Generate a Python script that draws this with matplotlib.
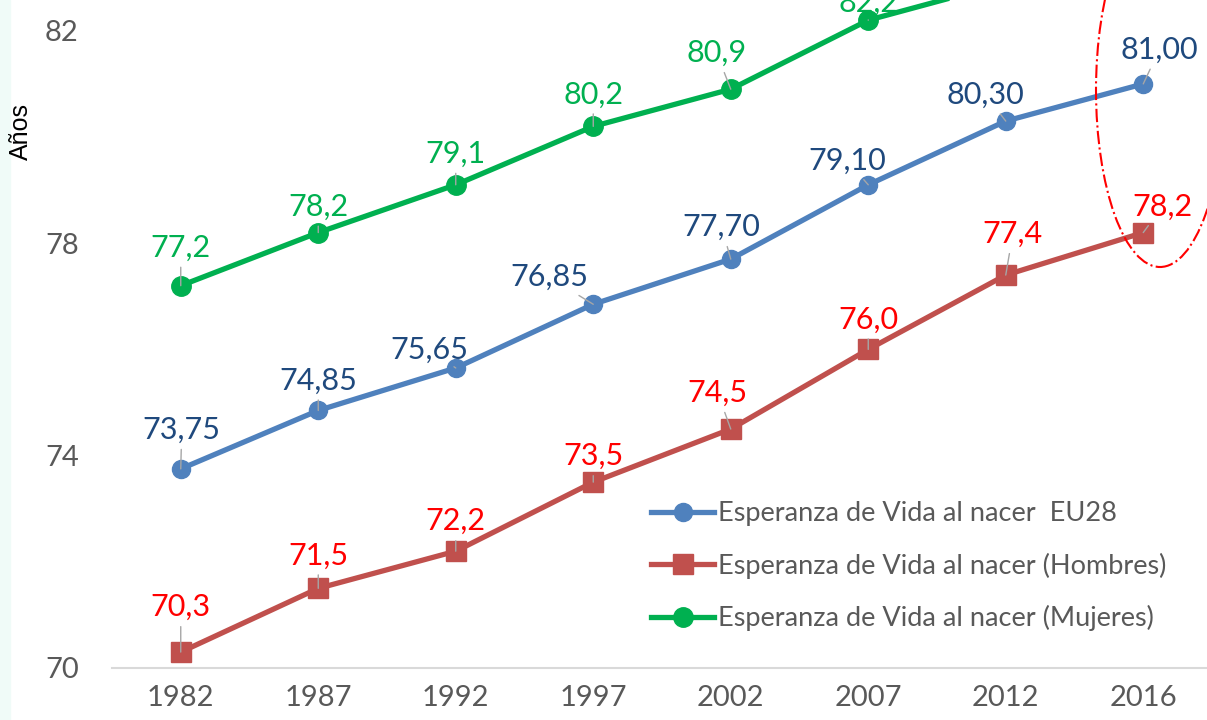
import matplotlib
matplotlib.use("Agg")
import matplotlib.pyplot as plt
from matplotlib.patches import Ellipse, Rectangle

plt.rcParams['font.family'] = ['Lato', 'DejaVu Sans']

# Data
years = ['1982', '1987', '1992', '1997', '2002', '2007', '2012', '2016']
eu28 = [73.75, 74.85, 75.65, 76.85, 77.70, 79.10, 80.30, 81.00]
hombres = [70.3, 71.5, 72.2, 73.5, 74.5, 76.0, 77.4, 78.2]
mujeres = [77.2, 78.2, 79.1, 80.2, 80.9, 82.2, 82.9, 83.6]

# label offsets in pixels (dx, dy) from each point
off_eu = [(1, 39), (0, 30), (-26, 18), (-44, 27), (-9, 32), (-21, 24), (-20, 26), (16, 34)]
off_h = [(0, 45), (0, 33), (0, 30), (0, 26), (-13, 36), (0, 30), (7, 41), (19, 26)]
off_m = [(0, 38), (0, 26), (0, 31), (0, 32), (-14, 36), (0, 17), (0, 20), (0, 20)]

fig = plt.figure(figsize=(12.07, 7.2), dpi=100)
fig.add_artist(Rectangle((0, 0), 10 / 1207, 1, transform=fig.transFigure,
                         color='#F0FBF8', zorder=0))
ax = fig.add_axes([112 / 1207, 52 / 720, 1100 / 1207, 668 / 720])

x = list(range(len(years)))
ax.plot(x, eu28, color='#4F81BD', lw=3.8, marker='o', ms=13,
        label='Esperanza de Vida al nacer  EU28', zorder=3)
ax.plot(x, hombres, color='#C0504D', lw=3.8, marker='s', ms=14,
        label='Esperanza de Vida al nacer (Hombres)', zorder=3)
ax.plot(x, mujeres, color='#00B050', lw=3.8, marker='o', ms=14,
        label='Esperanza de Vida al nacer (Mujeres)', zorder=3)

def labels(vals, offs, fmt, color):
    for i, (v, (dx, dy)) in enumerate(zip(vals, offs)):
        ax.annotate(fmt.format(v).replace('.', ','), (i, v),
                    xytext=(dx, dy), textcoords='offset pixels',
                    ha='center', va='center', fontsize=22, color=color,
                    arrowprops=dict(arrowstyle='-', color='#A6A6A6', lw=1,
                                    shrinkA=2, shrinkB=0),
                    zorder=4, annotation_clip=True)

labels(eu28, off_eu, '{:.2f}', '#1F497D')
labels(hombres, off_h, '{:.1f}', '#FF0000')
labels(mujeres, off_m, '{:.1f}', '#00B050')

ax.set_xlim(-0.5, 7.5)
ax.set_ylim(70, 82.58)
ax.set_yticks([70, 74, 78, 82])
ax.set_xticks(x)
ax.set_xticklabels(years)
ax.tick_params(length=0, labelsize=21, colors='#595959', pad=12)
ax.tick_params(axis='y', pad=24)
for s in ['top', 'right', 'left']:
    ax.spines[s].set_visible(False)
ax.spines['bottom'].set_color('#D9D9D9')
ax.spines['bottom'].set_linewidth(1.5)

fig.text(21 / 1207, 1 - 132 / 720, 'Años', rotation=90, ha='center',
         va='center', fontsize=18, family=['Liberation Sans'])

leg = ax.legend(loc='upper left', bbox_to_anchor=(627 / 1207, 1 - 477 / 720),
                bbox_transform=fig.transFigure, frameon=False, fontsize=19.5,
                handlelength=2.3, handletextpad=0.15, labelspacing=0.97)
for t in leg.get_texts():
    t.set_color('#595959')

fig.add_artist(Ellipse((1160 / 1207, 1 - 90 / 720), 128 / 1207, 354 / 720,
                       transform=fig.transFigure, fill=False, color='#FF0000',
                       ls='-.', lw=1.5, zorder=5))

fig.savefig('out.png', dpi=100)
